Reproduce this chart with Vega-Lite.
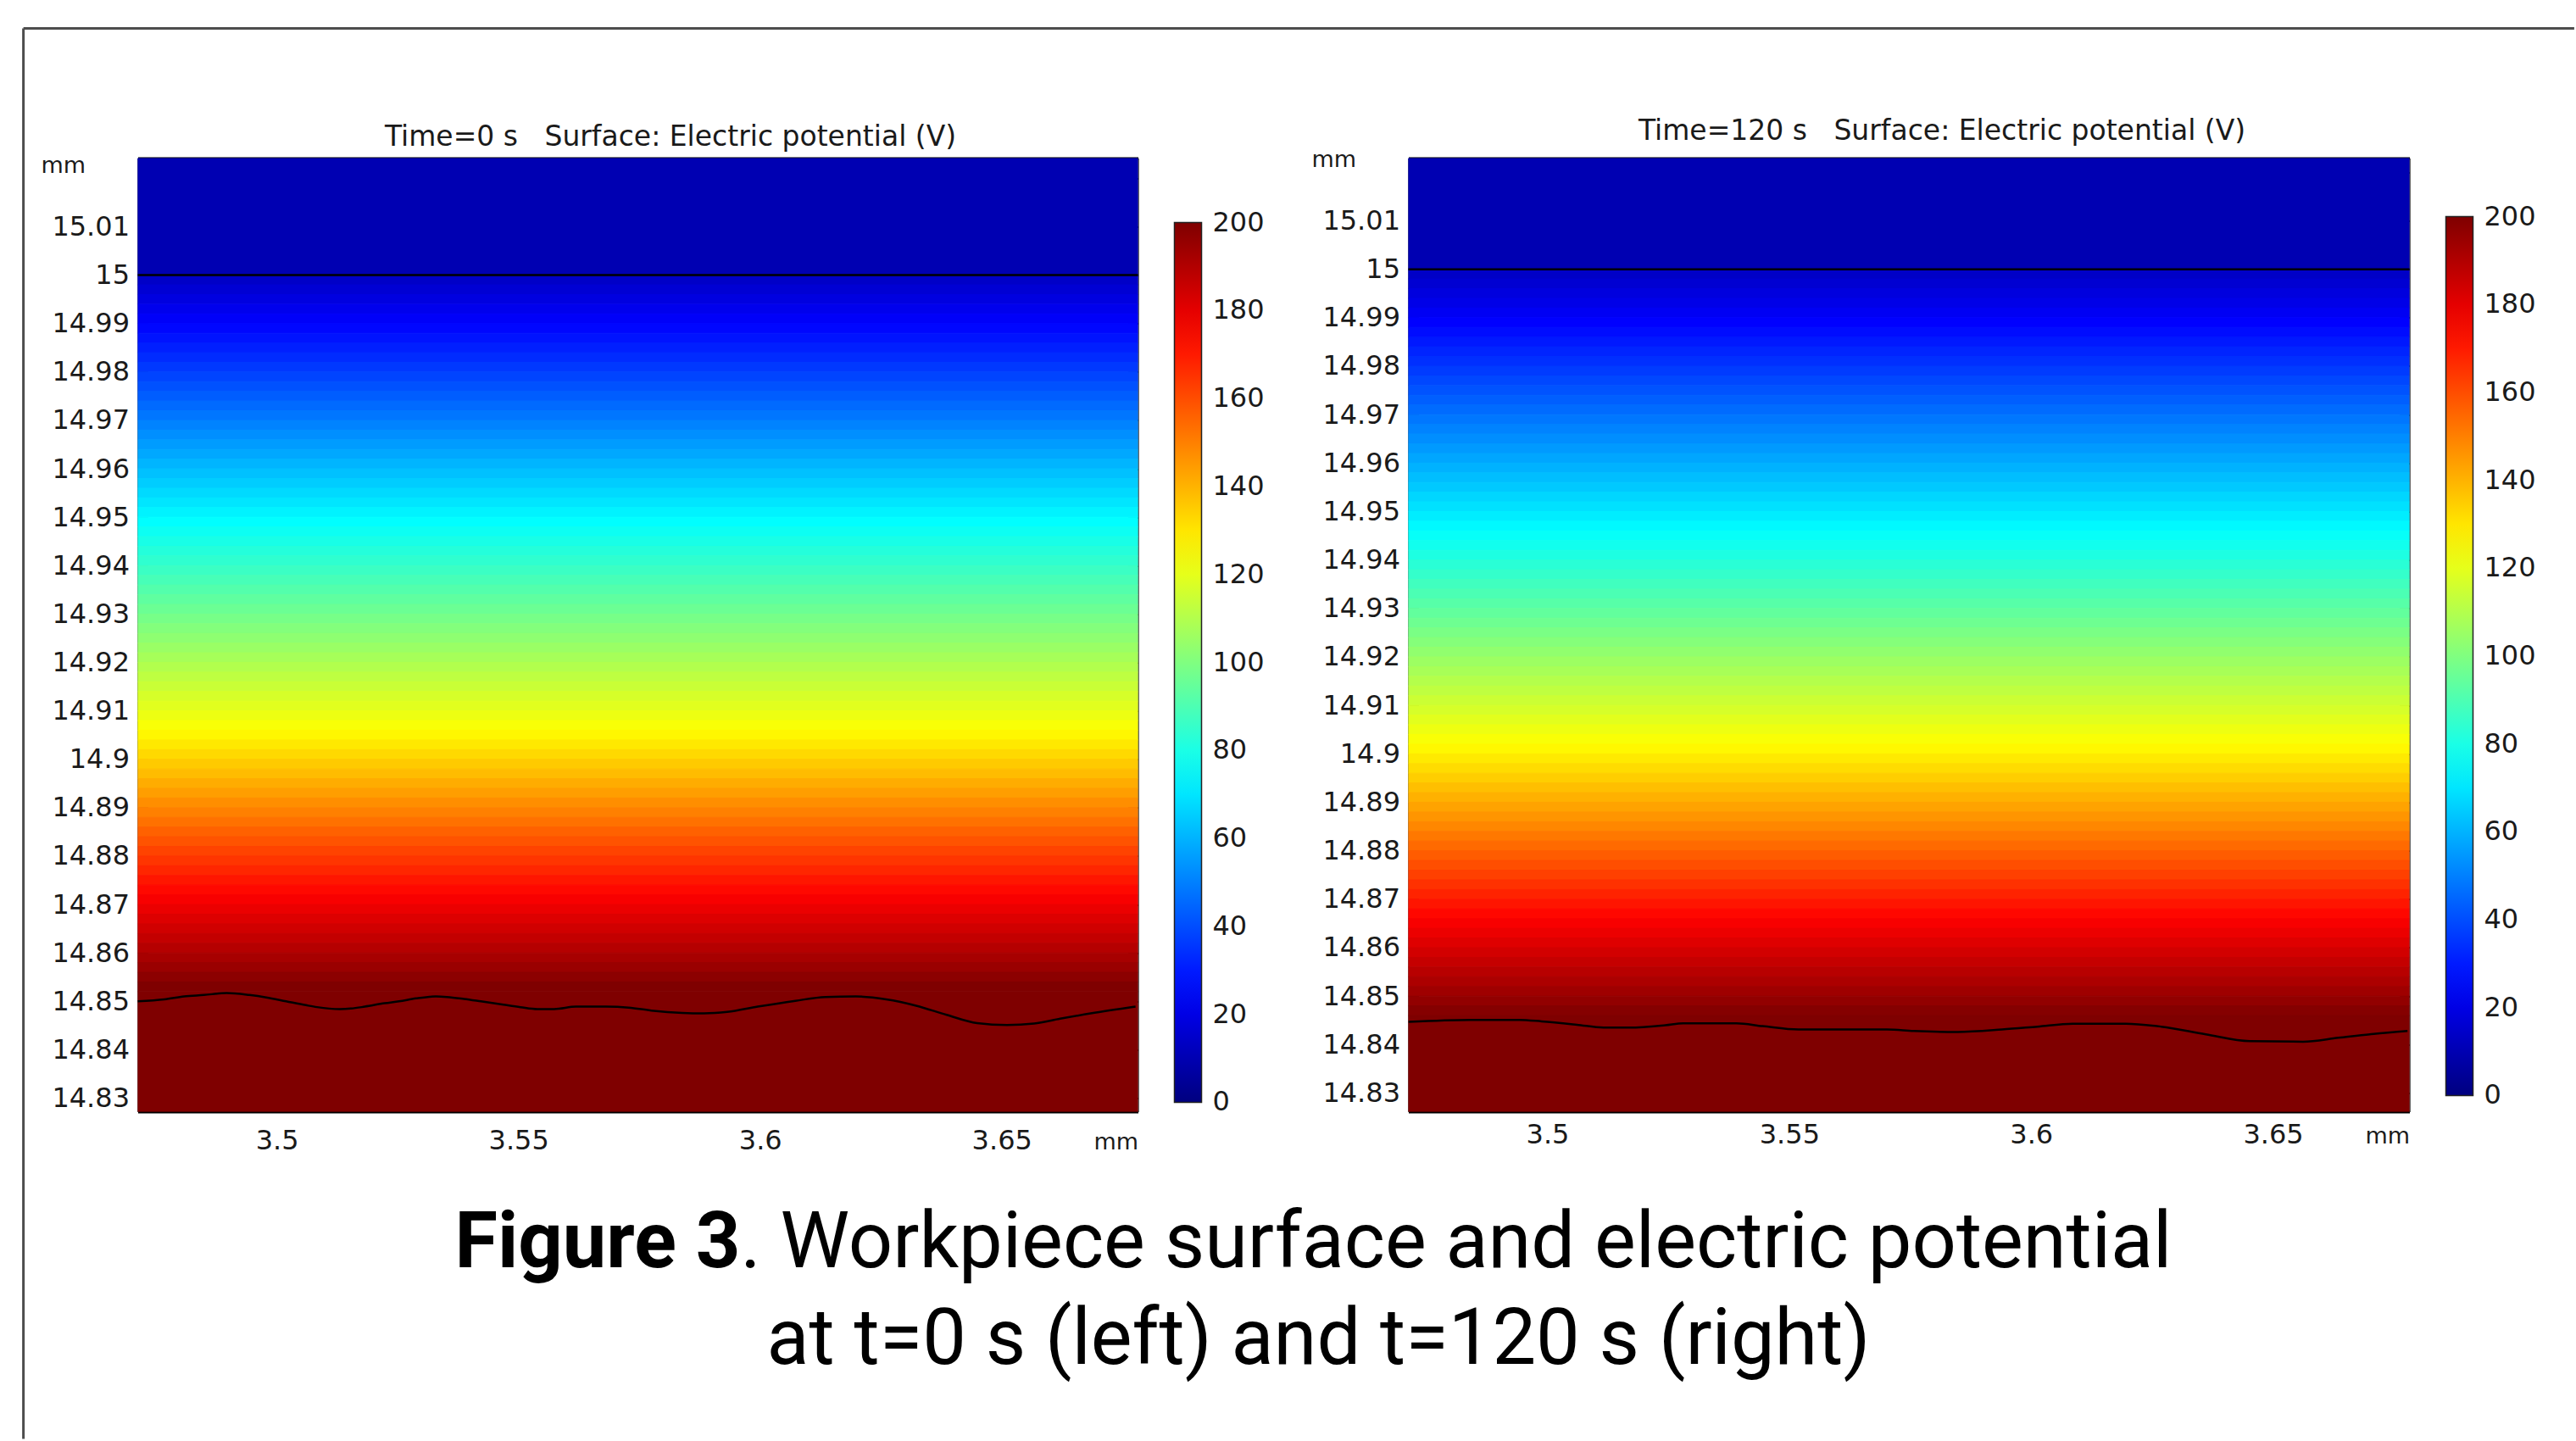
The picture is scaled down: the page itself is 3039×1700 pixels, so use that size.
{
 "$schema": "https://vega.github.io/schema/vega-lite/v6.json",
 "padding": {"left": 25.5, "top": 31.5, "right": 0, "bottom": 0},
 "background": "white",
 "config": {
  "view": {"stroke": null},
  "font": "DejaVu Sans",
  "axis": {"labelFont": "DejaVu Sans", "labelFontSize": 32, "labelColor": "#1a1a1a", "titleFont": "DejaVu Sans", "titleFontSize": 27, "titleFontWeight": "normal", "titleColor": "#1a1a1a", "tickColor": "#000", "tickWidth": 2, "grid": false, "domainColor": "#000", "labelFlush": false, "labelOverlap": false}
 },
 "datasets": {
  "surf": [{"y": 15}],
  "waveL": [
   {"x":3.4712,"y":14.8500},{"x":3.4767,"y":14.8504},{"x":3.4808,"y":14.8510},{"x":3.4849,"y":14.8513},{"x":3.4896,"y":14.8517},{"x":3.4943,"y":14.8513},{"x":3.4978,"y":14.8508},{"x":3.5019,"y":14.8500},{"x":3.5060,"y":14.8492},{"x":3.5083,"y":14.8488},{"x":3.5130,"y":14.8484},{"x":3.5153,"y":14.8485},{"x":3.5182,"y":14.8489},{"x":3.5223,"y":14.8496},{"x":3.5253,"y":14.8500},{"x":3.5288,"y":14.8506},{"x":3.5329,"y":14.8510},{"x":3.5352,"y":14.8509},{"x":3.5387,"y":14.8505},{"x":3.5422,"y":14.8500},{"x":3.5469,"y":14.8493},{"x":3.5504,"y":14.8488},{"x":3.5539,"y":14.8484},{"x":3.5574,"y":14.8484},{"x":3.5619,"y":14.8489},{"x":3.5681,"y":14.8489},{"x":3.5728,"y":14.8487},{"x":3.5775,"y":14.8481},{"x":3.5839,"y":14.8476},{"x":3.5884,"y":14.8475},{"x":3.5932,"y":14.8478},{"x":3.5995,"y":14.8489},{"x":3.6073,"y":14.8501},{"x":3.6135,"y":14.8509},{"x":3.6198,"y":14.8510},{"x":3.6261,"y":14.8504},{"x":3.6323,"y":14.8491},{"x":3.6386,"y":14.8472},{"x":3.6449,"y":14.8455},{"x":3.6511,"y":14.8451},{"x":3.6567,"y":14.8454},{"x":3.6621,"y":14.8464},{"x":3.6684,"y":14.8475},{"x":3.6777,"y":14.8489}
  ],
  "waveR": [
   {"x":3.4713,"y":14.8447},{"x":3.4841,"y":14.8451},{"x":3.4942,"y":14.8451},{"x":3.4988,"y":14.8448},{"x":3.5061,"y":14.8441},{"x":3.5116,"y":14.8435},{"x":3.5171,"y":14.8435},{"x":3.5244,"y":14.8440},{"x":3.5281,"y":14.8444},{"x":3.5391,"y":14.8444},{"x":3.5445,"y":14.8438},{"x":3.5519,"y":14.8431},{"x":3.5702,"y":14.8431},{"x":3.5757,"y":14.8428},{"x":3.5848,"y":14.8426},{"x":3.5940,"y":14.8431},{"x":3.6013,"y":14.8437},{"x":3.6086,"y":14.8443},{"x":3.6196,"y":14.8443},{"x":3.6269,"y":14.8437},{"x":3.6361,"y":14.8421},{"x":3.6452,"y":14.8407},{"x":3.6562,"y":14.8406},{"x":3.6635,"y":14.8414},{"x":3.6708,"y":14.8422},{"x":3.6778,"y":14.8428}
  ],
  "bandsL": [
   {"a":15.02418,"b":15,"v":10},
   {"a":15,"b":14.998,"v":14.2},{"a":14.998,"b":14.996,"v":16.6},{"a":14.996,"b":14.994,"v":19.0},{"a":14.994,"b":14.992,"v":21.4},{"a":14.992,"b":14.99,"v":23.8},
   {"a":14.99,"b":14.988,"v":26.2},{"a":14.988,"b":14.986,"v":28.7},{"a":14.986,"b":14.984,"v":31.1},{"a":14.984,"b":14.982,"v":33.5},{"a":14.982,"b":14.98,"v":36.0},
   {"a":14.98,"b":14.978,"v":38.4},{"a":14.978,"b":14.976,"v":40.9},{"a":14.976,"b":14.974,"v":43.3},{"a":14.974,"b":14.972,"v":45.7},{"a":14.972,"b":14.97,"v":48.2},
   {"a":14.97,"b":14.968,"v":50.6},{"a":14.968,"b":14.966,"v":53.0},{"a":14.966,"b":14.964,"v":55.5},{"a":14.964,"b":14.962,"v":57.9},{"a":14.962,"b":14.96,"v":60.4},
   {"a":14.96,"b":14.958,"v":62.8},{"a":14.958,"b":14.956,"v":65.2},{"a":14.956,"b":14.954,"v":67.7},{"a":14.954,"b":14.952,"v":70.1},{"a":14.952,"b":14.95,"v":72.6},
   {"a":14.95,"b":14.948,"v":75.0},{"a":14.948,"b":14.946,"v":77.3},{"a":14.946,"b":14.944,"v":79.7},{"a":14.944,"b":14.942,"v":82.0},{"a":14.942,"b":14.94,"v":84.3},
   {"a":14.94,"b":14.938,"v":86.6},{"a":14.938,"b":14.936,"v":89.0},{"a":14.936,"b":14.934,"v":91.3},{"a":14.934,"b":14.932,"v":93.6},{"a":14.932,"b":14.93,"v":95.9},
   {"a":14.93,"b":14.928,"v":98.3},{"a":14.928,"b":14.926,"v":100.6},{"a":14.926,"b":14.924,"v":102.9},{"a":14.924,"b":14.922,"v":105.2},{"a":14.922,"b":14.92,"v":107.6},
   {"a":14.92,"b":14.918,"v":109.9},{"a":14.918,"b":14.916,"v":112.2},{"a":14.916,"b":14.914,"v":114.5},{"a":14.914,"b":14.912,"v":116.9},{"a":14.912,"b":14.91,"v":119.2},
   {"a":14.91,"b":14.908,"v":121.5},{"a":14.908,"b":14.906,"v":123.8},{"a":14.906,"b":14.904,"v":126.5},{"a":14.904,"b":14.902,"v":129.4},{"a":14.902,"b":14.9,"v":132.4},
   {"a":14.9,"b":14.898,"v":135.3},{"a":14.898,"b":14.896,"v":138.2},{"a":14.896,"b":14.894,"v":141.2},{"a":14.894,"b":14.892,"v":144.1},{"a":14.892,"b":14.89,"v":147.1},
   {"a":14.89,"b":14.888,"v":150.0},{"a":14.888,"b":14.886,"v":152.9},{"a":14.886,"b":14.884,"v":155.9},{"a":14.884,"b":14.882,"v":158.8},{"a":14.882,"b":14.88,"v":161.8},
   {"a":14.88,"b":14.878,"v":164.7},{"a":14.878,"b":14.876,"v":167.6},{"a":14.876,"b":14.874,"v":170.6},{"a":14.874,"b":14.872,"v":173.5},{"a":14.872,"b":14.87,"v":176.3},
   {"a":14.87,"b":14.868,"v":178.9},{"a":14.868,"b":14.866,"v":181.6},{"a":14.866,"b":14.864,"v":184.2},{"a":14.864,"b":14.862,"v":186.8},{"a":14.862,"b":14.86,"v":189.5},
   {"a":14.86,"b":14.858,"v":192.1},{"a":14.858,"b":14.856,"v":194.7},{"a":14.856,"b":14.854,"v":197.4},{"a":14.854,"b":14.852,"v":200.0},
   {"a":14.852,"b":14.8272,"v":200}
  ],
  "bandsR": [
   {"a":15.02294,"b":15,"v":10},
   {"a":15,"b":14.998,"v":14.1},{"a":14.998,"b":14.996,"v":16.3},{"a":14.996,"b":14.994,"v":18.5},{"a":14.994,"b":14.992,"v":20.6},{"a":14.992,"b":14.99,"v":22.8},
   {"a":14.99,"b":14.988,"v":25.0},{"a":14.988,"b":14.986,"v":27.3},{"a":14.986,"b":14.984,"v":29.7},{"a":14.984,"b":14.982,"v":32.0},{"a":14.982,"b":14.98,"v":34.3},
   {"a":14.98,"b":14.978,"v":36.6},{"a":14.978,"b":14.976,"v":39.0},{"a":14.976,"b":14.974,"v":41.3},{"a":14.974,"b":14.972,"v":43.6},{"a":14.972,"b":14.97,"v":45.9},
   {"a":14.97,"b":14.968,"v":48.3},{"a":14.968,"b":14.966,"v":50.6},{"a":14.966,"b":14.964,"v":52.9},{"a":14.964,"b":14.962,"v":55.2},{"a":14.962,"b":14.96,"v":57.6},
   {"a":14.96,"b":14.958,"v":59.9},{"a":14.958,"b":14.956,"v":62.2},{"a":14.956,"b":14.954,"v":64.5},{"a":14.954,"b":14.952,"v":66.9},{"a":14.952,"b":14.95,"v":69.2},
   {"a":14.95,"b":14.948,"v":71.5},{"a":14.948,"b":14.946,"v":73.8},{"a":14.946,"b":14.944,"v":76.1},{"a":14.944,"b":14.942,"v":78.4},{"a":14.942,"b":14.94,"v":80.7},
   {"a":14.94,"b":14.938,"v":83.0},{"a":14.938,"b":14.936,"v":85.2},{"a":14.936,"b":14.934,"v":87.5},{"a":14.934,"b":14.932,"v":89.8},{"a":14.932,"b":14.93,"v":92.0},
   {"a":14.93,"b":14.928,"v":94.3},{"a":14.928,"b":14.926,"v":96.6},{"a":14.926,"b":14.924,"v":98.9},{"a":14.924,"b":14.922,"v":101.1},{"a":14.922,"b":14.92,"v":103.4},
   {"a":14.92,"b":14.918,"v":105.7},{"a":14.918,"b":14.916,"v":108.0},{"a":14.916,"b":14.914,"v":110.2},{"a":14.914,"b":14.912,"v":112.5},{"a":14.912,"b":14.91,"v":114.8},
   {"a":14.91,"b":14.908,"v":117.0},{"a":14.908,"b":14.906,"v":119.3},{"a":14.906,"b":14.904,"v":121.6},{"a":14.904,"b":14.902,"v":123.9},{"a":14.902,"b":14.9,"v":126.4},
   {"a":14.9,"b":14.898,"v":129.2},{"a":14.898,"b":14.896,"v":131.9},{"a":14.896,"b":14.894,"v":134.7},{"a":14.894,"b":14.892,"v":137.5},{"a":14.892,"b":14.89,"v":140.3},
   {"a":14.89,"b":14.888,"v":143.1},{"a":14.888,"b":14.886,"v":145.8},{"a":14.886,"b":14.884,"v":148.6},{"a":14.884,"b":14.882,"v":151.4},{"a":14.882,"b":14.88,"v":154.2},
   {"a":14.88,"b":14.878,"v":156.9},{"a":14.878,"b":14.876,"v":159.7},{"a":14.876,"b":14.874,"v":162.5},{"a":14.874,"b":14.872,"v":165.3},{"a":14.872,"b":14.87,"v":168.1},
   {"a":14.87,"b":14.868,"v":170.8},{"a":14.868,"b":14.866,"v":173.6},{"a":14.866,"b":14.864,"v":176.3},{"a":14.864,"b":14.862,"v":178.8},{"a":14.862,"b":14.86,"v":181.3},
   {"a":14.86,"b":14.858,"v":183.8},{"a":14.858,"b":14.856,"v":186.3},{"a":14.856,"b":14.854,"v":188.8},{"a":14.854,"b":14.852,"v":191.3},{"a":14.852,"b":14.85,"v":193.8},
   {"a":14.85,"b":14.848,"v":196.3},{"a":14.848,"b":14.846,"v":198.8},
   {"a":14.846,"b":14.82615,"v":200}
  ]
 },
 "bounds": "flush",
 "spacing": 1251,
 "vconcat": [
  {
   "hconcat": [
    {
     "width": 1180, "height": 1125,
     "resolve": {"axis": {"x": "independent", "y": "independent"}},
     "layer": [
      {
       "data": {"name": "bandsL"},
       "mark": {"type": "rect", "clip": true, "strokeWidth": 1},
       "encoding": {
        "x": {"datum": 3.4712, "type": "quantitative", "scale": {"domain": [3.4712, 3.6782], "zero": false, "nice": false}, "axis": null},
        "x2": {"datum": 3.6782},
        "y": {"field": "a", "type": "quantitative", "scale": {"domain": [14.8272, 15.02418], "zero": false, "nice": false}, "axis": null},
        "y2": {"field": "b"},
        "stroke": {"field": "v", "type": "quantitative", "scale": {"type": "linear", "domain": [-0.01, 25, 75, 125, 175, 200.01], "range": ["#00007f", "#0000ff", "#00ffff", "#ffff00", "#ff0000", "#7f0000"], "interpolate": "rgb"}, "legend": null},
        "color": {"field": "v", "type": "quantitative",
         "scale": {"type": "linear", "domain": [-0.01, 25, 75, 125, 175, 200.01], "range": ["#00007f", "#0000ff", "#00ffff", "#ffff00", "#ff0000", "#7f0000"], "interpolate": "rgb"},
         "legend": {"orient": "none", "legendX": 1223, "legendY": 76, "direction": "vertical", "gradientLength": 1038, "gradientThickness": 32, "values": [0, 20, 40, 60, 80, 100, 120, 140, 160, 180, 200], "title": null, "labelFont": "DejaVu Sans", "labelFontSize": 32, "labelColor": "#1a1a1a", "labelOffset": 13, "labelBaseline": "middle", "gradientStrokeColor": "#222", "gradientStrokeWidth": 1.5, "padding": 0}}
       }
      },
      {
       "data": {"name": "surf"},
       "mark": {"type": "rule", "color": "#000", "strokeWidth": 2.5},
       "encoding": {
        "x": {"datum": 3.4712, "type": "quantitative", "scale": {"domain": [3.4712, 3.6782], "zero": false, "nice": false},
         "axis": {"orient": "top", "values": [3.5, 3.55, 3.6, 3.65], "labels": false, "tickSize": -11, "domainWidth": 3, "domainColor": "#000",
          "title": "Time=0 s \u00a0 Surface: Electric potential (V)", "titleFontSize": 33, "titleX": 628, "titleY": -15, "titleAlign": "center", "titleAnchor": null, "titleBaseline": "alphabetic", "titleAngle": 0}},
        "x2": {"datum": 3.6782},
        "y": {"field": "y", "type": "quantitative", "scale": {"domain": [14.8272, 15.02418], "zero": false, "nice": false},
         "axis": {"orient": "right", "values": [14.83, 14.84, 14.85, 14.86, 14.87, 14.88, 14.89, 14.9, 14.91, 14.92, 14.93, 14.94, 14.95, 14.96, 14.97, 14.98, 14.99, 15, 15.01, 15.02], "labels": false, "tickSize": -12, "title": null, "domainWidth": 1.5, "domainColor": "#333"}}
       }
      },
      {
       "data": {"name": "waveL"},
       "mark": {"type": "line", "color": "#000", "strokeWidth": 2.5, "interpolate": "monotone"},
       "encoding": {
        "x": {"field": "x", "type": "quantitative", "scale": {"domain": [3.4712, 3.6782], "zero": false, "nice": false},
         "axis": {"orient": "bottom", "values": [3.5, 3.55, 3.6, 3.65], "format": "~g", "tickSize": -11, "labelPadding": 55, "labelBaseline": "alphabetic", "domainWidth": 3, "domainColor": "#000", "title": "mm", "titleAnchor": "end", "titleAlign": "right", "titleBaseline": "alphabetic", "titleY": 44}},
        "y": {"field": "y", "type": "quantitative", "scale": {"domain": [14.8272, 15.02418], "zero": false, "nice": false},
         "axis": {"orient": "left", "values": [14.83, 14.84, 14.85, 14.86, 14.87, 14.88, 14.89, 14.9, 14.91, 14.92, 14.93, 14.94, 14.95, 14.96, 14.97, 14.98, 14.99, 15, 15.01, 15.02], "format": "~g", "labelExpr": "datum.value > 15.015 ? '' : datum.label", "tickSize": -12, "labelPadding": 22, "labelBaseline": "middle", "domainWidth": 1.5, "domainColor": "#333", "title": "mm", "titleAngle": 0, "titleAlign": "right", "titleBaseline": "alphabetic", "titleX": -62, "titleY": 17}}
       }
      },
      {
       "data": {"values": [{}]},
       "mark": {"type": "rule", "color": "#4d4d4d", "strokeWidth": 3},
       "encoding": {
        "x": {"datum": 3.44754, "type": "quantitative", "axis": null},
        "x2": {"datum": 3.97544},
        "y": {"datum": 15.05097, "type": "quantitative", "axis": null}
       }
      },
      {
       "data": {"values": [{}]},
       "mark": {"type": "rule", "color": "#4d4d4d", "strokeWidth": 3},
       "encoding": {
        "x": {"datum": 3.44754, "type": "quantitative", "axis": null},
        "y": {"datum": 15.05097, "type": "quantitative", "axis": null},
        "y2": {"datum": 14.75961}
       }
      }
     ]
    },
    {
     "width": 1181, "height": 1125,
     "resolve": {"axis": {"x": "independent", "y": "independent"}},
     "layer": [
      {
       "data": {"name": "bandsR"},
       "mark": {"type": "rect", "clip": true, "strokeWidth": 1},
       "encoding": {
        "x": {"datum": 3.47126, "type": "quantitative", "scale": {"domain": [3.47126, 3.6782], "zero": false, "nice": false}, "axis": null},
        "x2": {"datum": 3.6782},
        "y": {"field": "a", "type": "quantitative", "scale": {"domain": [14.82615, 15.02294], "zero": false, "nice": false}, "axis": null},
        "y2": {"field": "b"},
        "stroke": {"field": "v", "type": "quantitative", "scale": {"type": "linear", "domain": [-0.01, 25, 75, 125, 175, 200.01], "range": ["#00007f", "#0000ff", "#00ffff", "#ffff00", "#ff0000", "#7f0000"], "interpolate": "rgb"}, "legend": null},
        "color": {"field": "v", "type": "quantitative",
         "scale": {"type": "linear", "domain": [-0.01, 25, 75, 125, 175, 200.01], "range": ["#00007f", "#0000ff", "#00ffff", "#ffff00", "#ff0000", "#7f0000"], "interpolate": "rgb"},
         "legend": {"orient": "none", "legendX": 1224, "legendY": 69, "direction": "vertical", "gradientLength": 1037, "gradientThickness": 32, "values": [0, 20, 40, 60, 80, 100, 120, 140, 160, 180, 200], "title": null, "labelFont": "DejaVu Sans", "labelFontSize": 32, "labelColor": "#1a1a1a", "labelOffset": 13, "labelBaseline": "middle", "gradientStrokeColor": "#222", "gradientStrokeWidth": 1.5, "padding": 0}}
       }
      },
      {
       "data": {"name": "surf"},
       "mark": {"type": "rule", "color": "#000", "strokeWidth": 2.5},
       "encoding": {
        "x": {"datum": 3.47126, "type": "quantitative", "scale": {"domain": [3.47126, 3.6782], "zero": false, "nice": false},
         "axis": {"orient": "top", "values": [3.5, 3.55, 3.6, 3.65], "labels": false, "tickSize": -11, "domainWidth": 3, "domainColor": "#000",
          "title": "Time=120 s \u00a0 Surface: Electric potential (V)", "titleFontSize": 33, "titleX": 629, "titleY": -22, "titleAlign": "center", "titleAnchor": null, "titleBaseline": "alphabetic", "titleAngle": 0}},
        "x2": {"datum": 3.6782},
        "y": {"field": "y", "type": "quantitative", "scale": {"domain": [14.82615, 15.02294], "zero": false, "nice": false},
         "axis": {"orient": "right", "values": [14.83, 14.84, 14.85, 14.86, 14.87, 14.88, 14.89, 14.9, 14.91, 14.92, 14.93, 14.94, 14.95, 14.96, 14.97, 14.98, 14.99, 15, 15.01, 15.02], "labels": false, "tickSize": -12, "title": null, "domainWidth": 1.5, "domainColor": "#333"}}
       }
      },
      {
       "data": {"name": "waveR"},
       "mark": {"type": "line", "color": "#000", "strokeWidth": 2.5, "interpolate": "monotone"},
       "encoding": {
        "x": {"field": "x", "type": "quantitative", "scale": {"domain": [3.47126, 3.6782], "zero": false, "nice": false},
         "axis": {"orient": "bottom", "values": [3.5, 3.55, 3.6, 3.65], "format": "~g", "tickSize": -11, "labelPadding": 48, "labelBaseline": "alphabetic", "domainWidth": 3, "domainColor": "#000", "title": "mm", "titleAnchor": "end", "titleAlign": "right", "titleBaseline": "alphabetic", "titleY": 37}},
        "y": {"field": "y", "type": "quantitative", "scale": {"domain": [14.82615, 15.02294], "zero": false, "nice": false},
         "axis": {"orient": "left", "values": [14.83, 14.84, 14.85, 14.86, 14.87, 14.88, 14.89, 14.9, 14.91, 14.92, 14.93, 14.94, 14.95, 14.96, 14.97, 14.98, 14.99, 15, 15.01, 15.02], "format": "~g", "labelExpr": "datum.value > 15.015 ? '' : datum.label", "tickSize": -12, "labelPadding": 22, "labelBaseline": "middle", "domainWidth": 1.5, "domainColor": "#333", "title": "mm", "titleAngle": 0, "titleAlign": "right", "titleBaseline": "alphabetic", "titleX": -62, "titleY": 10}}
       }
      }
     ]
    }
   ],
   "spacing": 319,
   "bounds": "flush",
   "resolve": {"scale": {"color": "independent"}, "legend": {"color": "independent"}}
  },
  {
   "width": 2786, "height": 228,
   "layer": [
    {
     "data": {"values": [{"line": "1", "t": "Figure 3"}]},
     "mark": {"type": "text", "align": "right", "baseline": "alphabetic", "dx": -682, "font": "Roboto", "fontSize": 92, "fontWeight": "bold", "color": "#000"},
     "encoding": {"y": {"field": "line", "type": "ordinal", "scale": {"domain": ["1", "2"]}, "axis": null}, "text": {"field": "t"}}
    },
    {
     "data": {"values": [{"line": "1", "t": ". Workpiece surface and electric potential"}]},
     "mark": {"type": "text", "align": "left", "baseline": "alphabetic", "dx": -682, "font": "Roboto", "fontSize": 92, "fontWeight": "normal", "color": "#000"},
     "encoding": {"y": {"field": "line", "type": "ordinal", "scale": {"domain": ["1", "2"]}, "axis": null}, "text": {"field": "t"}}
    },
    {
     "data": {"values": [{"line": "2", "t": "at t=0 s (left) and t=120 s (right)"}]},
     "mark": {"type": "text", "align": "center", "baseline": "alphabetic", "font": "Roboto", "fontSize": 92, "fontWeight": "normal", "color": "#000"},
     "encoding": {"y": {"field": "line", "type": "ordinal", "scale": {"domain": ["1", "2"]}, "axis": null}, "text": {"field": "t"}}
    }
   ]
  }
 ]
}
